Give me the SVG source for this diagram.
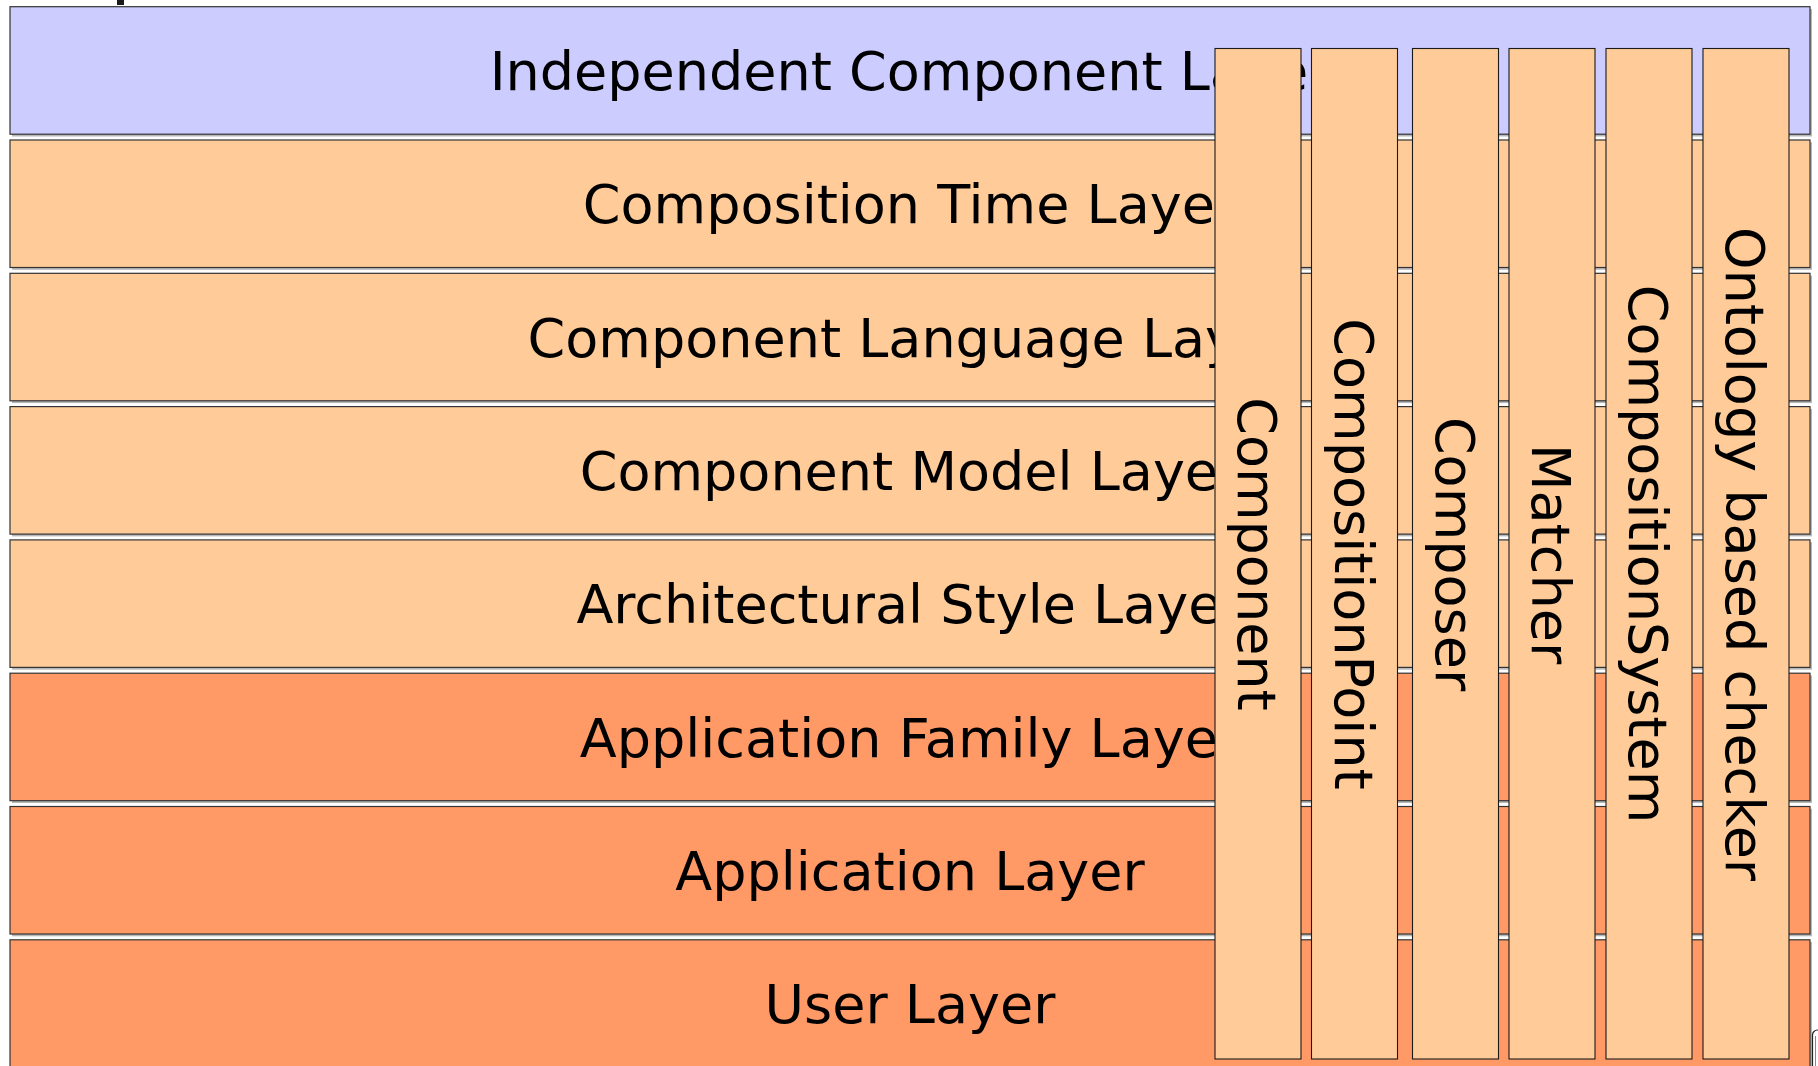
<svg xmlns="http://www.w3.org/2000/svg" width="1818" height="1066" viewBox="0 0 1818 1066">
  <style>
    .layer { stroke: #333333; stroke-width: 1.2; }
    .shadow { fill: #b8b8b8; }
    .indep { fill: #CCCCFF; }
    .peach { fill: #FFCC99; }
    .orange { fill: #FF9966; }
    .col { fill: #FFCC99; stroke: #1a1a1a; stroke-width: 1.1; }
    .lbl { font-family: "DejaVu Sans", "Liberation Sans", sans-serif; font-size: 54px; fill: #000000; text-anchor: middle; }
  </style>

  <rect width="1818" height="1066" fill="#ffffff"/>

  <!-- fragment of the heading above the stack -->
  <rect x="117" y="0" width="7" height="5" fill="#1a1a1a"/>

  <!-- horizontal layers, bottom-up architecture stack -->
  <g id="layer-independent">
    <rect class="shadow" x="12" y="9" width="1800" height="127.5"/>
    <rect class="layer indep" x="10" y="6.7" width="1800" height="127.5"/>
    <text class="lbl" x="910" y="90">Independent Component Layer</text>
  </g>
  <g id="layer-composition-time">
    <rect class="shadow" x="12" y="142.3" width="1800" height="127.5"/>
    <rect class="layer peach" x="10" y="140" width="1800" height="127.5"/>
    <text class="lbl" x="910" y="223.3">Composition Time Layer</text>
  </g>
  <g id="layer-component-language">
    <rect class="shadow" x="12" y="275.6" width="1800" height="127.5"/>
    <rect class="layer peach" x="10" y="273.3" width="1800" height="127.5"/>
    <text class="lbl" x="910" y="356.6">Component Language Layer</text>
  </g>
  <g id="layer-component-model">
    <rect class="shadow" x="12" y="408.9" width="1800" height="127.5"/>
    <rect class="layer peach" x="10" y="406.6" width="1800" height="127.5"/>
    <text class="lbl" x="910" y="489.9">Component Model Layer</text>
  </g>
  <g id="layer-architectural-style">
    <rect class="shadow" x="12" y="542.2" width="1800" height="127.5"/>
    <rect class="layer peach" x="10" y="539.9" width="1800" height="127.5"/>
    <text class="lbl" x="910" y="623.2">Architectural Style Layer</text>
  </g>
  <g id="layer-application-family">
    <rect class="shadow" x="12" y="675.5" width="1800" height="127.5"/>
    <rect class="layer orange" x="10" y="673.2" width="1800" height="127.5"/>
    <text class="lbl" x="910" y="756.5">Application Family Layer</text>
  </g>
  <g id="layer-application">
    <rect class="shadow" x="12" y="808.8" width="1800" height="127.5"/>
    <rect class="layer orange" x="10" y="806.5" width="1800" height="127.5"/>
    <text class="lbl" x="910" y="889.8">Application Layer</text>
  </g>
  <g id="layer-user">
    <rect class="shadow" x="12" y="942.1" width="1800" height="127.5"/>
    <rect class="layer orange" x="10" y="939.8" width="1800" height="127.5"/>
    <text class="lbl" x="910" y="1023.1">User Layer</text>
  </g>

  <!-- cross-cutting vertical components -->
  <g id="col-component">
    <rect class="col" x="1215" y="48.5" width="86" height="1010.5"/>
    <text class="lbl" transform="translate(1258 554) rotate(90)" x="0" y="20">Component</text>
  </g>
  <g id="col-composition-point">
    <rect class="col" x="1311.5" y="48.5" width="86" height="1010.5"/>
    <text class="lbl" transform="translate(1354.5 554) rotate(90)" x="0" y="20">CompositionPoint</text>
  </g>
  <g id="col-composer">
    <rect class="col" x="1412.5" y="48.5" width="86" height="1010.5"/>
    <text class="lbl" transform="translate(1455.5 554) rotate(90)" x="0" y="20">Composer</text>
  </g>
  <g id="col-matcher">
    <rect class="col" x="1509" y="48.5" width="86" height="1010.5"/>
    <text class="lbl" transform="translate(1552 554) rotate(90)" x="0" y="20">Matcher</text>
  </g>
  <g id="col-composition-system">
    <rect class="col" x="1606" y="48.5" width="86" height="1010.5"/>
    <text class="lbl" transform="translate(1649 554) rotate(90)" x="0" y="20">CompositionSystem</text>
  </g>
  <g id="col-ontology-checker">
    <rect class="col" x="1703" y="48.5" width="86" height="1010.5"/>
    <text class="lbl" transform="translate(1746 554) rotate(90)" x="0" y="20">Ontology based checker</text>
  </g>

  <!-- edge of a neighbouring shape at the right margin -->
  <rect x="1812.5" y="1030" width="30" height="60" rx="5" fill="#ffffff" stroke="#222222" stroke-width="1.2"/>
  <line x1="1815.5" y1="1036" x2="1815.5" y2="1066" stroke="#888888" stroke-width="1"/>
</svg>
